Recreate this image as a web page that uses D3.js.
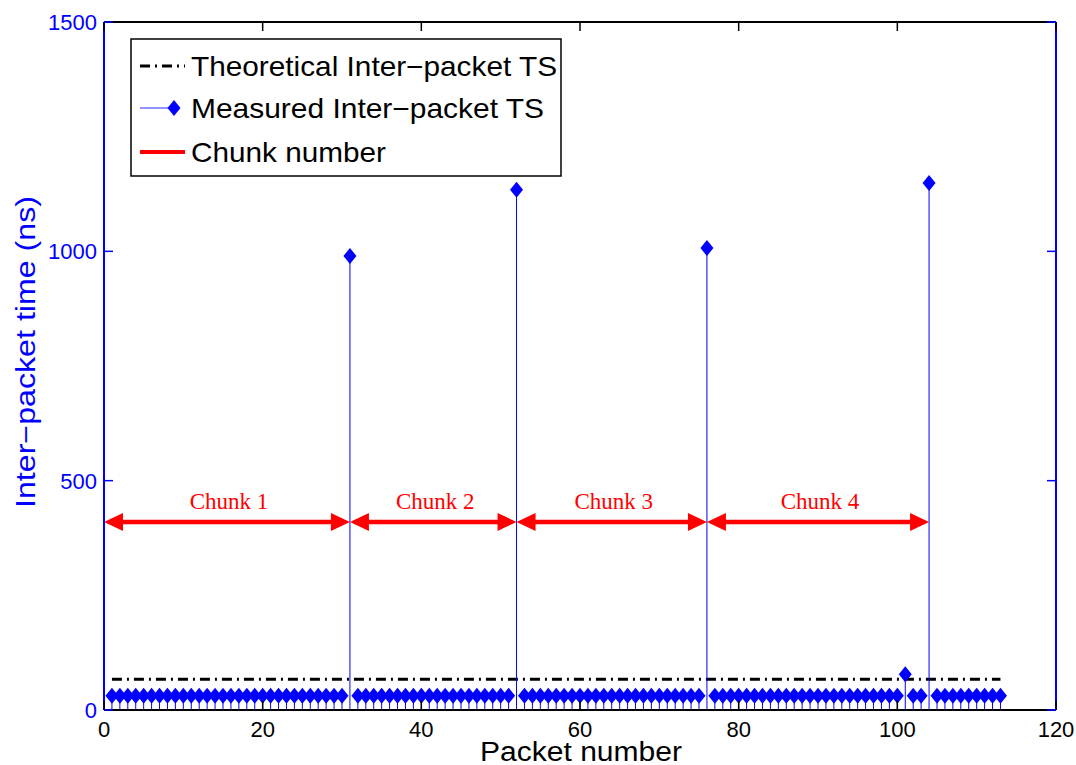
<!DOCTYPE html>
<html>
<head>
<meta charset="utf-8">
<script src="https://cdn.jsdelivr.net/npm/d3@7"></script>
<style>
  body { margin: 0; background: #fff; }
  text { font-family: "Liberation Sans", Arial, sans-serif; }
</style>
</head>
<body>
<svg id="chart" width="1076" height="765"></svg>
<script>
(function () {
  "use strict";

  // measured inter-packet time per packet (packet 1..113), ns
  const measured = [
    31, 31, 31, 31, 31, 31, 31, 31, 31, 31,
    31, 31, 31, 31, 31, 31, 31, 31, 31, 31,
    31, 31, 31, 31, 31, 31, 31, 31, 31, 31,
    990, 31, 31, 31, 31, 31, 31, 31, 31, 31,
    31, 31, 31, 31, 31, 31, 31, 31, 31, 31,
    31, 1134, 31, 31, 31, 31, 31, 31, 31, 31,
    31, 31, 31, 31, 31, 31, 31, 31, 31, 31,
    31, 31, 31, 31, 31, 1007, 31, 31, 31, 31,
    31, 31, 31, 31, 31, 31, 31, 31, 31, 31,
    31, 31, 31, 31, 31, 31, 31, 31, 31, 31,
    78, 31, 31, 1149, 31, 31, 31, 31, 31, 31,
    31, 31, 31
  ]
  const theoryX = [1, 113]
  const theoryY = [67.2, 67.2]

  const chunkStart = [0, 31, 52, 76]
  const chunkEnd = [31, 52, 76, 104]
  const chunkNames = ["Chunk 1", "Chunk 2", "Chunk 3", "Chunk 4"]
  const chunkLevel = 410

  const xTicks = [0, 20, 40, 60, 80, 100, 120]
  const yTicks = [0, 500, 1000, 1500]
  const legendNames = ["Theoretical Inter\u2212packet TS", "Measured Inter\u2212packet TS", "Chunk number"]

  const svg = d3.select("#chart")
  const L = 104, R = 1056, T = 22, B = 710
  const blue = "#0000ff"
  const dashDot = "10,5,2,5"

  const x = d3.scaleLinear().domain([0, 120]).range([L, R])
  const y = d3.scaleLinear().domain([0, 1500]).range([B, T])

  // dash-dot theoretical line
  svg.append("path")
    .attr("d", d3.line().x(d => x(d[0])).y(d => y(d[1]))(theoryX.map((v, i) => [v, theoryY[i]])))
    .attr("fill", "none")
    .attr("stroke", "#000")
    .attr("stroke-width", 3)
    .attr("stroke-dasharray", dashDot)

  // stems
  svg.append("g").selectAll("line")
    .data(measured)
    .join("line")
    .attr("x1", (d, i) => x(i + 1)).attr("x2", (d, i) => x(i + 1))
    .attr("y1", y(0)).attr("y2", d => y(d))
    .attr("stroke", blue)
    .attr("stroke-width", 1)

  let diamond = function (cx, cy) {
    return "M" + cx + "," + (cy - 8) + "L" + (cx + 6.5) + "," + cy +
      "L" + cx + "," + (cy + 8) + "L" + (cx - 6.5) + "," + cy + "Z"
  }

  svg.append("g").selectAll("path")
    .data(measured)
    .join("path")
    .attr("d", (d, i) => diamond(x(i + 1), y(d)))
    .attr("fill", blue)

  // chunk arrows
  let arrowHead = function (tx, ty, dir) {
    let len = 19, hw = 9
    return "M" + tx + "," + ty + "L" + (tx - dir * len) + "," + (ty - hw) +
      "L" + (tx - dir * len) + "," + (ty + hw) + "Z"
  }
  let cg = svg.append("g")
  chunkStart.forEach(function (s, i) {
    let x0 = x(s), x1 = x(chunkEnd[i]), yy = y(chunkLevel)
    cg.append("line")
      .attr("x1", x0 + 10).attr("x2", x1 - 10)
      .attr("y1", yy).attr("y2", yy)
      .attr("stroke", "#ff0000").attr("stroke-width", 4.5)
    cg.append("path").attr("d", arrowHead(x0, yy, -1)).attr("fill", "#ff0000")
    cg.append("path").attr("d", arrowHead(x1, yy, 1)).attr("fill", "#ff0000")
    cg.append("text")
      .attr("x", (x0 + x1) / 2 + 2).attr("y", yy - 13)
      .attr("text-anchor", "middle")
      .style("font-family", "'Liberation Serif', 'Times New Roman', serif")
      .style("font-size", "23px")
      .attr("fill", "#ff0000")
      .text(chunkNames[i])
  })

  // axes box
  svg.append("line").attr("x1", L).attr("x2", R).attr("y1", B).attr("y2", B)
    .attr("stroke", "#000").attr("stroke-width", 2)
  svg.append("line").attr("x1", L).attr("x2", R).attr("y1", T).attr("y2", T)
    .attr("stroke", "#000").attr("stroke-width", 2)
  svg.append("line").attr("x1", L).attr("x2", L).attr("y1", T).attr("y2", B)
    .attr("stroke", blue).attr("stroke-width", 2)
  svg.append("line").attr("x1", R).attr("x2", R).attr("y1", T).attr("y2", B)
    .attr("stroke", blue).attr("stroke-width", 2)

  // x ticks
  let xg = svg.append("g")
  xTicks.forEach(function (t) {
    xg.append("line").attr("x1", x(t)).attr("x2", x(t)).attr("y1", B).attr("y2", B - 9)
      .attr("stroke", "#000").attr("stroke-width", 1.5)
    xg.append("line").attr("x1", x(t)).attr("x2", x(t)).attr("y1", T).attr("y2", T + 9)
      .attr("stroke", "#000").attr("stroke-width", 1.5)
    xg.append("text").attr("x", x(t)).attr("y", 737)
      .attr("text-anchor", "middle").style("font-size", "22px").attr("fill", "#000")
      .text(t)
  })

  // y ticks
  let yg = svg.append("g")
  yTicks.forEach(function (t) {
    yg.append("line").attr("x1", L).attr("x2", L + 9).attr("y1", y(t)).attr("y2", y(t))
      .attr("stroke", blue).attr("stroke-width", 1.5)
    yg.append("line").attr("x1", R).attr("x2", R - 9).attr("y1", y(t)).attr("y2", y(t))
      .attr("stroke", blue).attr("stroke-width", 1.5)
    yg.append("text").attr("x", 97).attr("y", y(t) + 8)
      .attr("text-anchor", "end").style("font-size", "22px").attr("fill", blue)
      .text(t)
  })

  // axis labels
  svg.append("text").attr("x", 581).attr("y", 761)
    .attr("text-anchor", "middle").style("font-size", "27px").attr("fill", "#000")
    .attr("textLength", 202).attr("lengthAdjust", "spacingAndGlyphs")
    .text("Packet number")
  svg.append("text")
    .attr("transform", "translate(35,352) rotate(-90)")
    .attr("text-anchor", "middle").style("font-size", "27px").attr("fill", blue)
    .attr("textLength", 312).attr("lengthAdjust", "spacingAndGlyphs")
    .text("Inter\u2212packet time (ns)")

  // legend
  let lg = svg.append("g")
  lg.append("rect").attr("x", 131).attr("y", 39).attr("width", 430).attr("height", 137)
    .attr("fill", "#fff").attr("stroke", "#000").attr("stroke-width", 1.5)
  let rowY = [66, 108, 152]
  let rowLen = [366, 353, 195]
  lg.append("line").attr("x1", 140).attr("x2", 185).attr("y1", rowY[0]).attr("y2", rowY[0])
    .attr("stroke", "#000").attr("stroke-width", 3).attr("stroke-dasharray", dashDot)
  lg.append("line").attr("x1", 140).attr("x2", 175).attr("y1", rowY[1]).attr("y2", rowY[1])
    .attr("stroke", "#6f6fff").attr("stroke-width", 1.5)
  lg.append("path").attr("d", diamond(174, rowY[1])).attr("fill", blue)
  lg.append("line").attr("x1", 140).attr("x2", 185).attr("y1", rowY[2]).attr("y2", rowY[2])
    .attr("stroke", "#ff0000").attr("stroke-width", 4)
  legendNames.forEach(function (n, i) {
    lg.append("text").attr("x", 191).attr("y", rowY[i] + 10)
      .style("font-size", "28px").attr("fill", "#000")
      .attr("textLength", rowLen[i]).attr("lengthAdjust", "spacingAndGlyphs")
      .text(n)
  })
})();
</script>
</body>
</html>
